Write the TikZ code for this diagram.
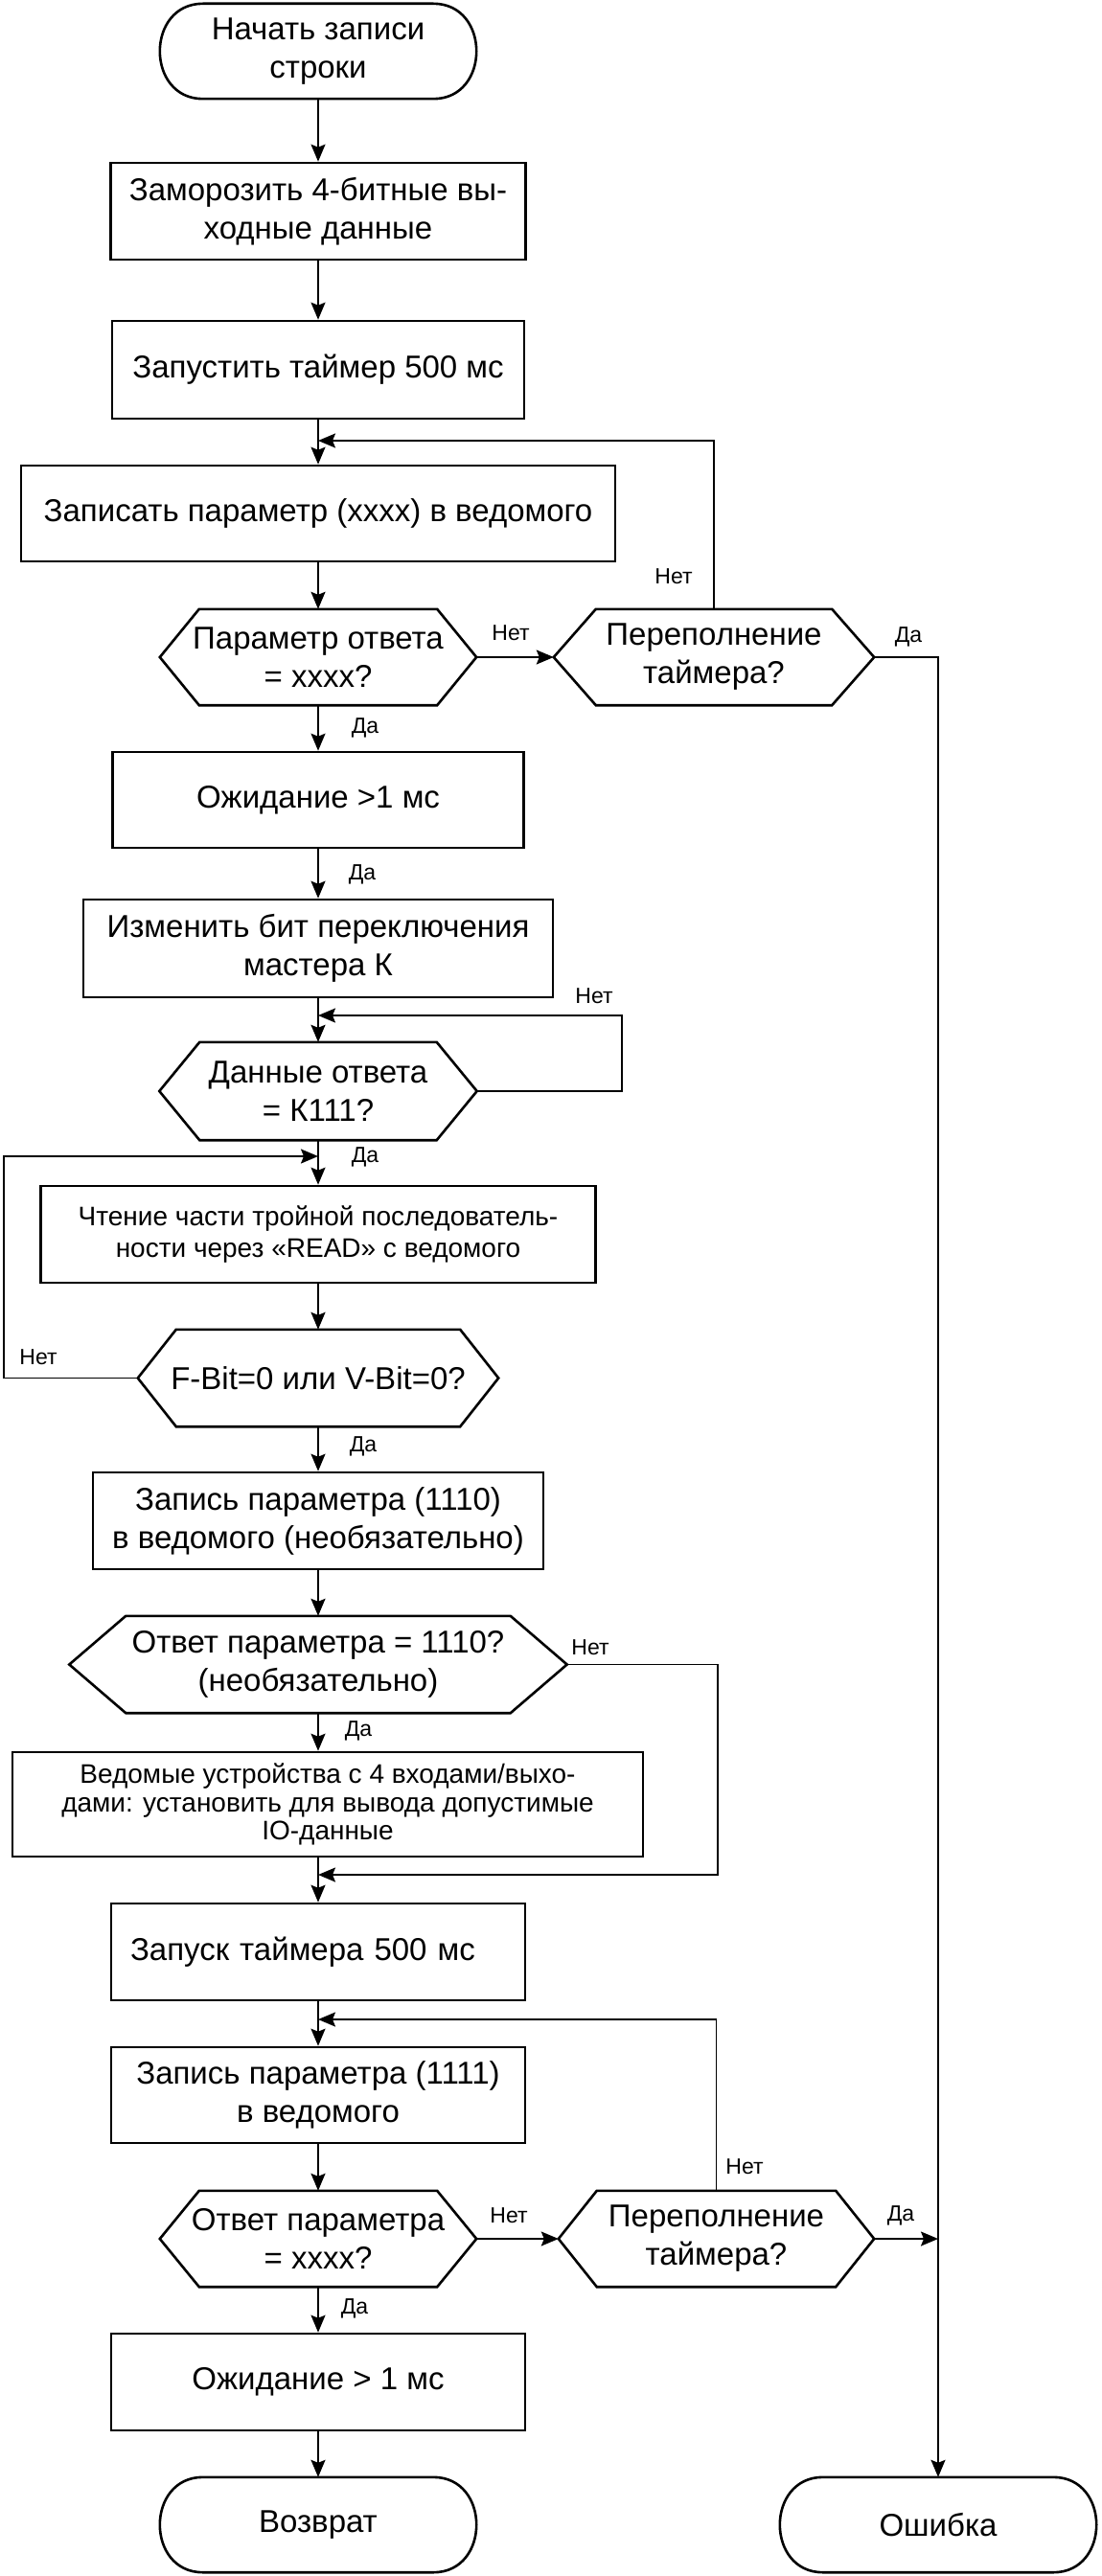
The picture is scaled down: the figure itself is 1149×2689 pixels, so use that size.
\documentclass[tikz,border=0pt]{standalone}
\usepackage{fontspec}
\setmainfont{Liberation Sans}
\usetikzlibrary{arrows.meta}
\newcommand\mainf{\fontsize{33}{40}\selectfont}
\newcommand\smallf{\fontsize{28}{33}\selectfont}
\newcommand\smallerf{\fontsize{28}{29.5}\selectfont}
\newcommand\lblf{\fontsize{23}{26}\selectfont}
\newcommand\hexdraw[2]{\draw[shapeline] (#1.west) -- ([xshift=#2]#1.north west) -- ([xshift=-#2]#1.north east) -- (#1.east) -- ([xshift=-#2]#1.south east) -- ([xshift=#2]#1.south west) -- cycle;}
\newcommand\termdraw[1]{\draw[shapeline] ([xshift=45pt]#1.north west) -- ([xshift=-45pt]#1.north east) .. controls ([xshift=15pt]#1.north east) and ([xshift=15pt]#1.south east) .. ([xshift=-45pt]#1.south east) -- ([xshift=45pt]#1.south west) .. controls ([xshift=-15pt]#1.south west) and ([xshift=-15pt]#1.north west) .. ([xshift=45pt]#1.north west) -- cycle;}
\begin{document}
\begin{tikzpicture}[x=1pt,y=-1pt,
  shapeline/.style={draw=black,line width=2.6pt,line join=miter},
  boxn/.style={draw=black,line width=2.6pt,rectangle,inner sep=0pt,align=center,font=\mainf},
  invn/.style={inner sep=0pt,align=center,font=\mainf},
  conn/.style={draw=black,line width=1.8pt,-{Stealth[length=18pt,width=15pt,inset=3pt]}},
  lbl/.style={inner sep=0pt,font=\lblf}]
\fill[white] (0,0) rectangle (1149,2689);
\useasboundingbox (0,0) rectangle (1149,2689);

% nodes
\node[invn,minimum width=330pt,minimum height=99pt] (st) at (332,53.5) {Начать записи\\строки};
\node[boxn,minimum width=433pt,minimum height=101pt] (b2) at (332,220.5) {Заморозить 4-битные вы-\\ходные данные};
\node[boxn,minimum width=430pt,minimum height=102pt] (b3) at (332,386) {Запустить таймер 500 мс};
\node[boxn,minimum width=620pt,minimum height=100pt] (b4) at (332,536) {Записать параметр (xxxx) в ведомого};
\node[invn,minimum width=330pt,minimum height=100pt] (d1) at (332,686) {Параметр ответа\\= xxxx?};
\node[invn,minimum width=334pt,minimum height=100pt] (d2) at (745,686) {Переполнение\\таймера?};
\node[boxn,minimum width=429pt,minimum height=100pt] (b5) at (332,835) {Ожидание >1 мс};
\node[boxn,minimum width=490pt,minimum height=102pt] (b6) at (332,990) {Изменить бит переключения\\мастера К};
\node[invn,minimum width=331pt,minimum height=102pt] (d3) at (332,1139) {Данные ответа\\= К111?};
\node[boxn,minimum width=579pt,minimum height=101pt,font=\smallf] (b7) at (332,1288.5) {Чтение части тройной последователь-\\ности через «READ» с ведомого};
\node[invn,minimum width=376pt,minimum height=101pt] (d4) at (332,1438.5) {F-Bit=0 или V-Bit=0?};
\node[boxn,minimum width=470pt,minimum height=101pt] (b8) at (332,1587.5) {Запись параметра (1110)\\в ведомого (необязательно)};
\node[invn,minimum width=519pt,minimum height=101pt] (d5) at (332,1737.5) {Ответ параметра = 1110?\\(необязательно)};
\node[boxn,minimum width=658pt,minimum height=109pt,font=\smallerf] (b9) at (342,1883.5) {Ведомые устройства с 4 входами/выхо-\\дами: установить для вывода допустимые\\IO-данные};
\node[boxn,minimum width=432pt,minimum height=101pt,text width=392pt,inner xsep=20pt,align=left] (b10) at (332,2037.5) {Запуск таймера 500 мс};
\node[boxn,minimum width=432pt,minimum height=100pt] (b11) at (332,2187) {Запись параметра (1111)\\в ведомого};
\node[invn,minimum width=330pt,minimum height=100pt] (d6) at (332,2337) {Ответ параметра\\= xxxx?};
\node[invn,minimum width=329pt,minimum height=100pt] (d7) at (747.5,2337) {Переполнение\\таймера?};
\node[boxn,minimum width=432pt,minimum height=101pt] (b12) at (332,2486.5) {Ожидание > 1 мс};
\node[invn,minimum width=330pt,minimum height=99pt] (ret) at (332,2635.5) {Возврат};
\node[invn,minimum width=330pt,minimum height=99pt] (err) at (979,2635.5) {Ошибка};

% outlines
\termdraw{st}
\termdraw{ret}
\termdraw{err}
\hexdraw{d1}{41pt}
\hexdraw{d2}{44pt}
\hexdraw{d3}{42pt}
\hexdraw{d4}{40pt}
\hexdraw{d5}{59pt}
\hexdraw{d6}{41pt}
\hexdraw{d7}{40pt}

% junction coordinates
\coordinate (j1) at (332,460);
\coordinate (c3) at (649,1060);
\coordinate (j3) at (332,1060);
\coordinate (c4) at (4,1207);
\coordinate (j4) at (332,1207);
\coordinate (c5) at (749,1957);
\coordinate (j5) at (332,1957);
\coordinate (j6) at (332,2108);
\coordinate (j7) at (979,2337);

% connectors
\draw[conn] (st) -- (b2);
\draw[conn] (b2) -- (b3);
\draw[conn] (b3) -- (b4);
\draw[conn] (b4) -- (d1);
\draw[conn] (d1) -- (d2);
\draw[conn] (d2.north) |- (j1);
\draw[conn] (d2.east) -| (err.north);
\draw[conn] (d1) -- (b5);
\draw[conn] (b5) -- (b6);
\draw[conn] (b6) -- (d3);
\draw[conn] (d3.east) -| (c3) -- (j3);
\draw[conn] (d3) -- (b7);
\draw[conn] (b7) -- (d4);
\draw[conn] (d4.west) -| (c4) -- (j4);
\draw[conn] (d4) -- (b8);
\draw[conn] (b8) -- (d5);
\draw[conn] (d5.south) -- (d5.south |- b9.north);
\draw[conn] (d5.east) -| (c5) -- (j5);
\draw[conn] (b10.north |- b9.south) -- (b10.north);
\draw[conn] (b10) -- (b11);
\draw[conn] (d7.north) |- (j6);
\draw[conn] (b11) -- (d6);
\draw[conn] (d6) -- (d7);
\draw[conn] (d7.east) -- (j7);
\draw[conn] (d6) -- (b12);
\draw[conn] (b12) -- (ret);

% labels
\node[lbl] (l1) at (533,661) {Нет};
\node[lbl] (l2) at (703,602) {Нет};
\node[lbl] (l3) at (948,665) {Да};
\node[lbl] (l4) at (381,760) {Да};
\node[lbl] (l5) at (378,913) {Да};
\node[lbl] (l6) at (620,1040) {Нет};
\node[lbl] (l7) at (381,1208) {Да};
\node[lbl] (l8) at (40,1417) {Нет};
\node[lbl] (l9) at (379,1510) {Да};
\node[lbl] (l10) at (616,1720) {Нет};
\node[lbl] (l11) at (374,1807) {Да};
\node[lbl] (l12) at (777,2262) {Нет};
\node[lbl] (l13) at (531,2313) {Нет};
\node[lbl] (l14) at (940,2313) {Да};
\node[lbl] (l15) at (370,2410) {Да};
\end{tikzpicture}
\end{document}
